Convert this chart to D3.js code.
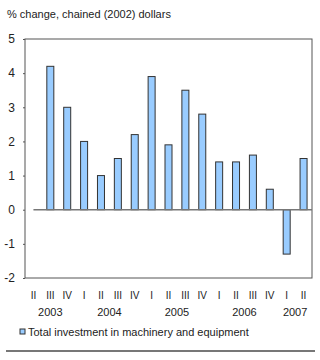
<!DOCTYPE html>
<html>
<head>
<meta charset="utf-8">
<script src="https://cdn.jsdelivr.net/npm/d3@7"></script>
<style>
  body { margin: 0; background: #fff; }
  svg { display: block; font-family: "Liberation Sans", Arial, sans-serif; }
</style>
</head>
<body>
<div id="chart"></div>
<script>
// quarters from 2003 Q2 to 2007 Q2
const quarters = ["II", "III", "IV", "I", "II", "III", "IV", "I", "II", "III", "IV", "I", "II", "III", "IV", "I", "II"];
const values = [null, 4.2, 3.0, 2.0, 1.0, 1.5, 2.2, 3.9, 1.9, 3.5, 2.8, 1.4, 1.4, 1.6, 0.6, -1.3, 1.5];
const years = ["2003", "2004", "2005", "2006", "2007"];
const yearSpans = [[0, 2], [3, 6], [7, 10], [11, 14], [15, 16]];
const yTicks = [-2, -1, 0, 1, 2, 3, 4, 5];
const seriesName = "Total investment in machinery and equipment";

const W = 320, H = 360;
const margin = {top: 39, right: 8, bottom: 82, left: 25};
const width = W - margin.left - margin.right;
const height = H - margin.top - margin.bottom;

const svg = d3.select("#chart").append("svg")
    .attr("width", W)
    .attr("height", H);

svg.append("text")
    .attr("x", 7)
    .attr("y", 18)
    .attr("font-size", "11px")
    .attr("fill", "#222")
    .text("% change, chained (2002) dollars");

const g = svg.append("g")
    .attr("transform", `translate(${margin.left},${margin.top})`);

const x = d3.scaleBand()
    .domain(d3.range(quarters.length))
    .range([0, width]);

const y = d3.scaleLinear()
    .domain([-2, 5])
    .range([height, 0]);

// plot frame
g.append("rect")
    .attr("x", 0).attr("y", 0)
    .attr("width", width).attr("height", height)
    .attr("fill", "none")
    .attr("stroke", "#555")
    .attr("stroke-width", 1);

// y axis labels + small ticks (plain hyphen for negatives)
const yAxis = g.append("g")
    .call(d3.axisLeft(y).tickValues(yTicks).tickSize(2).tickPadding(8)
        .tickFormat(d => String(d)));
yAxis.select(".domain").remove();
yAxis.selectAll("line").attr("stroke", "#555");
yAxis.selectAll("text")
    .attr("font-size", "12px")
    .attr("fill", "#222")
    .attr("font-family", "Liberation Sans, Arial, sans-serif");

// bars
g.selectAll(".bar")
    .data(values.map((v, i) => ({i, v})).filter(d => d.v !== null))
    .enter()
    .append("rect")
    .attr("class", "bar")
    .attr("x", d => x(d.i) + x.bandwidth() / 2 - 3.5)
    .attr("y", d => y(Math.max(0, d.v)))
    .attr("width", 7)
    .attr("height", d => Math.abs(y(d.v) - y(0)))
    .attr("fill", "#99ccff")
    .attr("stroke", "#333")
    .attr("stroke-width", 1);

// zero line
g.append("line")
    .attr("x1", x(0) + x.bandwidth() / 2)
    .attr("x2", width)
    .attr("y1", y(0)).attr("y2", y(0))
    .attr("stroke", "#777")
    .attr("stroke-width", 1.5);

// quarter labels
g.selectAll(".q")
    .data(quarters)
    .enter()
    .append("text")
    .attr("class", "q")
    .attr("x", (d, i) => x(i) + x.bandwidth() / 2)
    .attr("y", height + 21)
    .attr("text-anchor", "middle")
    .attr("font-size", "10px")
    .attr("fill", "#222")
    .text(d => d);

// year labels
g.selectAll(".yr")
    .data(years)
    .enter()
    .append("text")
    .attr("class", "yr")
    .attr("x", (d, i) => (x(yearSpans[i][0]) + x(yearSpans[i][1]) + x.bandwidth()) / 2)
    .attr("y", height + 38)
    .attr("text-anchor", "middle")
    .attr("font-size", "11px")
    .attr("fill", "#222")
    .text(d => d);

// legend
const leg = svg.append("g").attr("transform", "translate(20,329)");
leg.append("rect")
    .attr("x", 0).attr("y", 0)
    .attr("width", 5).attr("height", 5)
    .attr("fill", "#99ccff")
    .attr("stroke", "#333")
    .attr("stroke-width", 1);
leg.append("text")
    .attr("x", 8)
    .attr("y", 7)
    .attr("font-size", "11px")
    .attr("fill", "#222")
    .text(seriesName);

svg.append("line")
    .attr("x1", 6).attr("x2", 315)
    .attr("y1", 351).attr("y2", 351)
    .attr("stroke", "#777")
    .attr("stroke-width", 2);
</script>
</body>
</html>
